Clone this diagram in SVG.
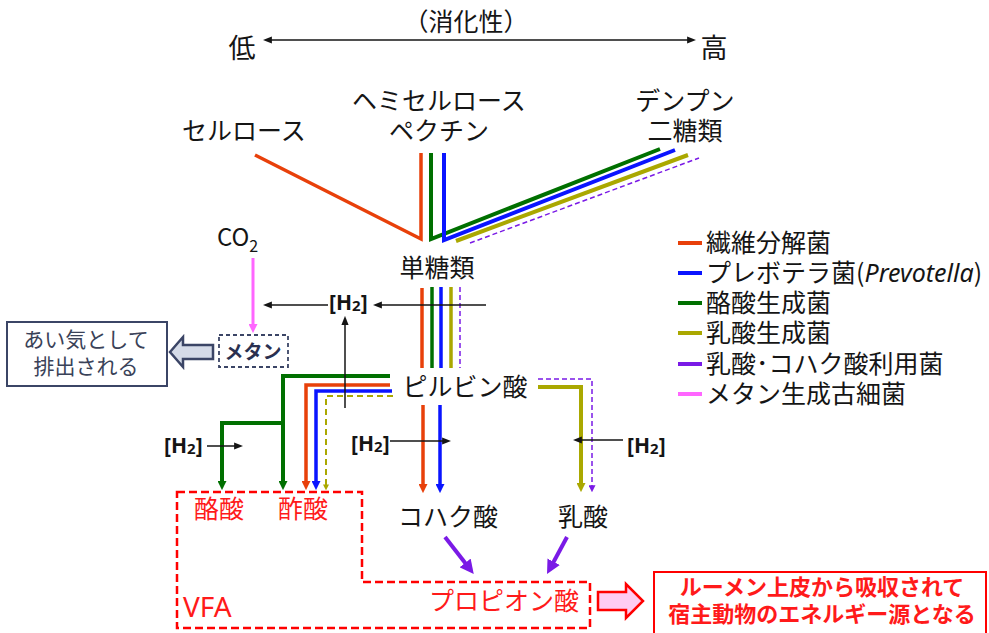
<svg xmlns="http://www.w3.org/2000/svg" width="989" height="633" viewBox="0 0 989 633">
<style>
.t{font-family:'Noto Sans CJK JP','Noto Sans',sans-serif;font-size:25px;fill:#151515}
.c{text-anchor:middle}
.rt{fill:#ff1a1a}
.h2{font-family:'Noto Sans','Noto Sans CJK JP',sans-serif;font-weight:bold;font-size:21px;fill:#151515}
.ln{fill:none;stroke-linejoin:miter}
.R{stroke:#e8400a}.G{stroke:#007000}.B{stroke:#0a14ff}.O{stroke:#aaa800}.P{stroke:#7a1ae6}.K{stroke:#ff66ff}.Bk{stroke:#151515}
</style>
<defs>
<marker id="aR" viewBox="0 0 10 10" refX="1" refY="5" markerWidth="9" markerHeight="9" markerUnits="userSpaceOnUse" orient="auto"><path d="M0,0L10,5L0,10z" fill="#e8400a"/></marker>
<marker id="aG" viewBox="0 0 10 10" refX="1" refY="5" markerWidth="9" markerHeight="9" markerUnits="userSpaceOnUse" orient="auto"><path d="M0,0L10,5L0,10z" fill="#007000"/></marker>
<marker id="aB" viewBox="0 0 10 10" refX="1" refY="5" markerWidth="9" markerHeight="9" markerUnits="userSpaceOnUse" orient="auto"><path d="M0,0L10,5L0,10z" fill="#0a14ff"/></marker>
<marker id="aO" viewBox="0 0 10 10" refX="1" refY="5" markerWidth="9" markerHeight="9" markerUnits="userSpaceOnUse" orient="auto"><path d="M0,0L10,5L0,10z" fill="#aaa800"/></marker>
<marker id="aOs" viewBox="0 0 10 10" refX="1" refY="5" markerWidth="6" markerHeight="6" markerUnits="userSpaceOnUse" orient="auto"><path d="M0,0L10,5L0,10z" fill="#aaa800"/></marker>
<marker id="aPs" viewBox="0 0 10 10" refX="1" refY="5" markerWidth="7" markerHeight="7" markerUnits="userSpaceOnUse" orient="auto"><path d="M0,0L10,5L0,10z" fill="#7a1ae6"/></marker>
<marker id="aPb" viewBox="0 0 10 10" refX="1" refY="5" markerWidth="14" markerHeight="14" markerUnits="userSpaceOnUse" orient="auto"><path d="M0,0L10,5L0,10z" fill="#7a1ae6"/></marker>
<marker id="aK" viewBox="0 0 10 10" refX="1" refY="5" markerWidth="9" markerHeight="9" markerUnits="userSpaceOnUse" orient="auto"><path d="M0,0L10,5L0,10z" fill="#ff66ff"/></marker>
<marker id="aBk" viewBox="0 0 10 10" refX="1" refY="5" markerWidth="9" markerHeight="9" markerUnits="userSpaceOnUse" orient="auto-start-reverse"><path d="M0,1L10,5L0,9z" fill="#151515"/></marker>
</defs>
<rect width="989" height="633" fill="#ffffff"/>

<g id="connectors">
  <!-- digestibility axis -->
  <path class="ln Bk" stroke-width="1.5" d="M271,40H688" marker-start="url(#aBk)" marker-end="url(#aBk)"/>
  <!-- substrates to monosaccharides -->
  <polyline class="ln R" stroke-width="3.5" points="255,155 421,239 421,153"/>
  <polyline class="ln G" stroke-width="4" points="431,153 431,239 660,149"/>
  <polyline class="ln B" stroke-width="4" points="444,153 444,240 675,150"/>
  <line class="ln O" stroke-width="4" x1="456" y1="241" x2="688" y2="155"/>
  <line class="ln P" stroke-width="1.5" stroke-dasharray="5,3" x1="470" y1="243" x2="699" y2="158"/>
  <!-- monosaccharides to pyruvate -->
  <line class="ln R" stroke-width="3.5" x1="422" y1="288" x2="422" y2="368"/>
  <line class="ln G" stroke-width="3.5" x1="432" y1="287" x2="432" y2="368"/>
  <line class="ln B" stroke-width="3.5" x1="441" y1="287" x2="441" y2="368"/>
  <line class="ln O" stroke-width="3.5" x1="451" y1="287" x2="451" y2="368"/>
  <line class="ln P" stroke-width="1.5" stroke-dasharray="5,3" x1="460" y1="287" x2="460" y2="368"/>
  <!-- pyruvate to butyrate / acetate -->
  <path class="ln G" stroke-width="4" d="M390,376H283V482" marker-end="url(#aG)"/>
  <path class="ln G" stroke-width="4" d="M283,423H222V482" marker-end="url(#aG)"/>
  <path class="ln R" stroke-width="3.5" d="M390,385H306V482" marker-end="url(#aR)"/>
  <path class="ln B" stroke-width="3.5" d="M392,391H316V482" marker-end="url(#aB)"/>
  <path class="ln O" stroke-width="2" stroke-dasharray="6,4" d="M393,396H326V485" marker-end="url(#aOs)"/>
  <!-- pyruvate to succinate -->
  <path class="ln R" stroke-width="3.5" d="M423,405V485" marker-end="url(#aR)"/>
  <path class="ln B" stroke-width="3.5" d="M440,405V485" marker-end="url(#aB)"/>
  <!-- pyruvate to lactate -->
  <path class="ln O" stroke-width="4" d="M538,387H581V484" marker-end="url(#aO)"/>
  <path class="ln P" stroke-width="1.5" stroke-dasharray="5,3" d="M538,379H592V486" marker-end="url(#aPs)"/>
  <!-- to propionate -->
  <path class="ln P" stroke-width="4" d="M445,537L466,564" marker-end="url(#aPb)"/>
  <path class="ln P" stroke-width="4" d="M567,537L553,563" marker-end="url(#aPb)"/>
  <!-- CO2 to methane -->
  <path class="ln K" stroke-width="3" d="M253,258V325" marker-end="url(#aK)"/>
  <!-- hydrogen arrows -->
  <path class="ln Bk" stroke-width="1.5" d="M486,305H381" marker-end="url(#aBk)"/>
  <path class="ln Bk" stroke-width="1.5" d="M328,305H271" marker-end="url(#aBk)"/>
  <path class="ln Bk" stroke-width="1.5" d="M345,408V324" marker-end="url(#aBk)"/>
  <path class="ln Bk" stroke-width="1.5" d="M207,446H235" marker-end="url(#aBk)"/>
  <path class="ln Bk" stroke-width="1.5" d="M390,441H443" marker-end="url(#aBk)"/>
  <path class="ln Bk" stroke-width="1.5" d="M623,440H581" marker-end="url(#aBk)"/>
  <!-- block arrows -->
  <polygon points="170,352 183,337 183,345 213,345 213,359 183,359 183,367" fill="#d5dbe8" stroke="#3b4566" stroke-width="2.5" stroke-linejoin="miter"/>
  <polygon points="598,592 626,592 626,584 643,601 626,618 626,610 598,610" fill="#ffccf2" stroke="#ff0000" stroke-width="2.5" stroke-linejoin="miter"/>
</g>

<g id="axis">
  <text class="t c" x="466" y="31">（消化性）</text>
  <text class="t c" x="242" y="58" style="font-size:27px">低</text>
  <text class="t c" x="714" y="58" style="font-size:27px">高</text>
</g>
<g id="cellulose"><text class="t c" x="244" y="140">セルロース</text></g>
<g id="hemicellulose"><text class="t c" x="439" y="110">ヘミセルロース</text><text class="t c" x="439" y="140">ペクチン</text></g>
<g id="starch"><text class="t c" x="685" y="110">デンプン</text><text class="t c" x="685" y="140">二糖類</text></g>
<g id="monosaccharide"><text class="t c" x="437" y="277">単糖類</text></g>
<g id="co2"><text class="t" x="217" y="246" style="font-size:24px">CO<tspan style="font-size:16px" dy="6">2</tspan></text></g>
<g id="h2-top"><text class="h2" x="329" y="310">[H<tspan style="font-size:15px" dy="1">2</tspan><tspan dy="-1">]</tspan></text></g>
<g id="methane">
  <rect x="219" y="335" width="69" height="32" fill="none" stroke="#3b4566" stroke-width="1.8" stroke-dasharray="4,3"/>
  <text class="t c" x="253" y="359" style="font-size:19px;font-weight:bold;fill:#2a3050">メタン</text>
</g>
<g id="eructation">
  <rect x="7" y="322" width="160" height="64" fill="#ffffff" stroke="#3b4566" stroke-width="2"/>
  <text class="t c" x="86" y="347" style="font-size:21px;fill:#3a4258">あい気として</text>
  <text class="t c" x="86" y="374" style="font-size:21px;fill:#3a4258">排出される</text>
</g>
<g id="pyruvate"><text class="t c" x="465" y="396">ピルビン酸</text></g>
<g id="h2-left"><text class="h2" x="164" y="453">[H<tspan style="font-size:15px" dy="1">2</tspan><tspan dy="-1">]</tspan></text></g>
<g id="h2-mid"><text class="h2" x="351" y="451">[H<tspan style="font-size:15px" dy="1">2</tspan><tspan dy="-1">]</tspan></text></g>
<g id="h2-right"><text class="h2" x="627" y="453">[H<tspan style="font-size:15px" dy="1">2</tspan><tspan dy="-1">]</tspan></text></g>
<g id="vfa">
  <path d="M177,492H362V582H590V628H177Z" fill="none" stroke="#ff0000" stroke-width="2.5" stroke-dasharray="8,4"/>
  <text class="t c rt" x="219" y="518">酪酸</text>
  <text class="t c rt" x="303" y="518">酢酸</text>
  <text class="t rt" x="183" y="617" style="font-size:28px;font-family:'Noto Sans',sans-serif">VFA</text>
  <text class="t c rt" x="504" y="610">プロピオン酸</text>
</g>
<g id="succinate"><text class="t c" x="448" y="526">コハク酸</text></g>
<g id="lactate"><text class="t c" x="583" y="526">乳酸</text></g>
<g id="energy">
  <rect x="654" y="572" width="332" height="70" fill="#ffffff" stroke="#ff0000" stroke-width="2"/>
  <text class="t c rt" x="822" y="595" style="font-size:22px;font-weight:bold">ルーメン上皮から吸収されて</text>
  <text class="t c rt" x="822" y="622" style="font-size:22px;font-weight:bold">宿主動物のエネルギー源となる</text>
</g>
<g id="legend">
  <line x1="678" y1="243" x2="702" y2="243" stroke="#e8400a" stroke-width="4"/>
  <text class="t" x="706" y="252">繊維分解菌</text>
  <line x1="678" y1="273" x2="702" y2="273" stroke="#0a14ff" stroke-width="4"/>
  <text class="t" x="706" y="282">プレボテラ菌(<tspan style="font-style:italic;font-family:'Noto Sans',sans-serif">Prevotella</tspan>)</text>
  <line x1="678" y1="303" x2="702" y2="303" stroke="#007000" stroke-width="4"/>
  <text class="t" x="706" y="312">酪酸生成菌</text>
  <line x1="678" y1="333" x2="702" y2="333" stroke="#aaa800" stroke-width="4"/>
  <text class="t" x="706" y="342">乳酸生成菌</text>
  <line x1="678" y1="364" x2="702" y2="364" stroke="#7a1ae6" stroke-width="4"/>
  <text class="t" x="706" y="373">乳酸･コハク酸利用菌</text>
  <line x1="678" y1="394" x2="702" y2="394" stroke="#ff66ff" stroke-width="4"/>
  <text class="t" x="706" y="403">メタン生成古細菌</text>
</g>
</svg>
